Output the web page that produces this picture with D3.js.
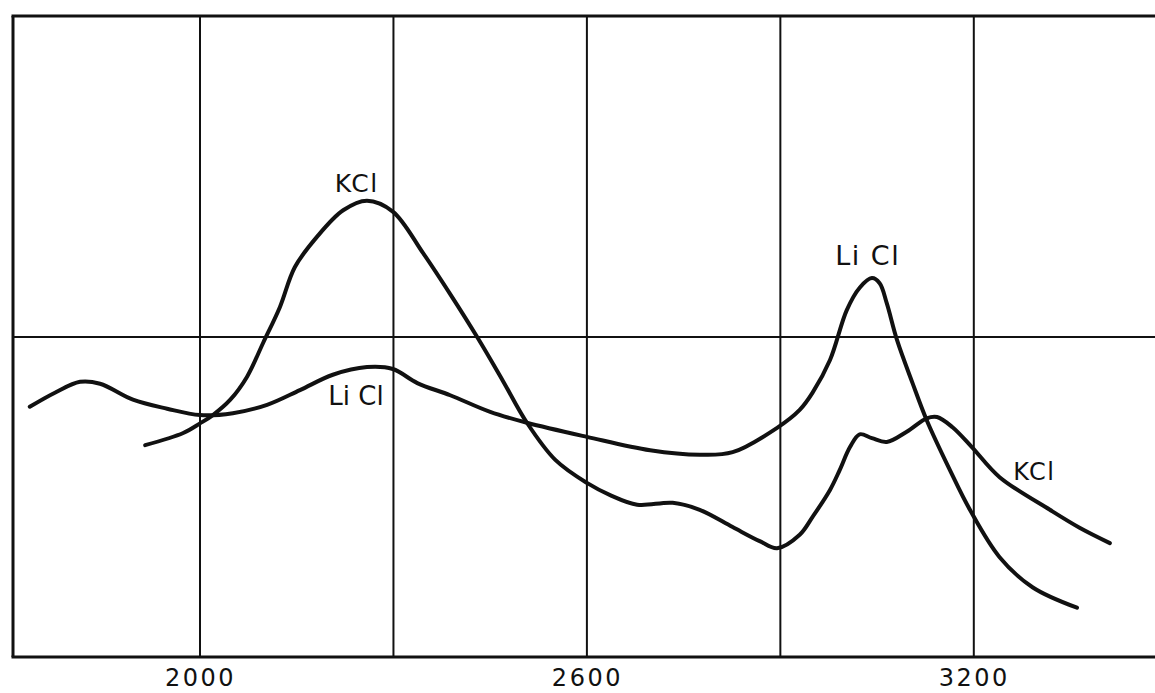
<!DOCTYPE html>
<html>
<head>
<meta charset="utf-8">
<script src="https://cdn.jsdelivr.net/npm/d3@7"></script>
<style>
  html, body { margin: 0; padding: 0; background: #fff; }
  svg { display: block; }
  text { font-family: "DejaVu Sans", "Liberation Sans", sans-serif; fill: #111; }
</style>
</head>
<body>
<svg id="chart" width="1155" height="693"></svg>
<script>
// Wavenumber (cm^-1) of each reading
const kclWave = [1915, 1974, 2000, 2020, 2047, 2073, 2098, 2124, 2147, 2181, 2222, 2259, 2299, 2346, 2388, 2431, 2470, 2507, 2551, 2600, 2636, 2678, 2733, 2775, 2826, 2868, 2895, 2930, 2950, 2977, 2992, 3008, 3023, 3042, 3065, 3096, 3127, 3143, 3167, 3197, 3240, 3318, 3364, 3411];
// Relative intensity of the KCl trace
const kclValue = [33.1, 35.0, 36.5, 37.8, 40.2, 43.8, 49.1, 54.7, 60.9, 65.6, 69.8, 71.3, 69.6, 63.1, 56.7, 49.8, 43.1, 36.6, 30.8, 27.2, 25.3, 23.8, 24.1, 23.0, 20.3, 18.1, 17.0, 19.1, 21.9, 26.1, 29.2, 32.8, 34.8, 34.2, 33.6, 35.2, 37.3, 37.5, 35.9, 32.8, 28.1, 23.0, 20.2, 17.8];

const liclWave = [1736, 1775, 1814, 1845, 1896, 1949, 2000, 2051, 2104, 2155, 2206, 2259, 2299, 2337, 2388, 2450, 2507, 2600, 2698, 2775, 2826, 2895, 2930, 2950, 2977, 3003, 3023, 3042, 3054, 3065, 3081, 3105, 3127, 3163, 3194, 3240, 3291, 3360];
// Relative intensity of the LiCl trace
const liclValue = [39.1, 41.3, 43.0, 42.7, 40.2, 38.8, 37.8, 38.1, 39.4, 41.7, 44.1, 45.3, 45.0, 42.8, 40.9, 38.3, 36.6, 34.4, 32.3, 31.6, 32.0, 35.8, 38.6, 41.3, 46.4, 54.2, 57.7, 59.2, 58.4, 55.3, 49.5, 42.8, 37.0, 29.2, 23.0, 15.6, 10.9, 7.7];

// Vertical rules and which of them carry a label
const gridWaves = [2000, 2300, 2600, 2900, 3200];
const tickLabels = ["2000", "2600", "3200"];
const midLevel = [50];

// Curve labels: text and the wavenumber / intensity where each text starts
const labelText = ["KCl", "Li Cl", "Li Cl", "KCl"];
const labelWave = [2209, 2985, 2199, 3261];
const labelValue = [72.7, 61.2, 39.4, 27.7];

const labelStyle = [
  { size: 25, spacing: 1.5 },
  { size: 27, spacing: 1.5 },
  { size: 26, spacing: 0 },
  { size: 24, spacing: 1.5 }
];

const svg = d3.select("#chart");
const W = 1155, H = 693;

const x = d3.scaleLinear().domain([1710, 3481]).range([13, 1155]);
const y = d3.scaleLinear().domain([0, 100]).range([657, 17]);

// frame: left edge and top edge
const frame = svg.append("g").attr("stroke", "#111").attr("fill", "none");
frame.append("line")
  .attr("x1", x(1710)).attr("x2", x(1710))
  .attr("y1", y(100) - 1).attr("y2", y(0))
  .attr("stroke-width", 3);
frame.append("line")
  .attr("x1", x(1710) - 1.5).attr("x2", W)
  .attr("y1", y(100) - 1).attr("y2", y(100) - 1)
  .attr("stroke-width", 3);

// vertical rules
svg.append("g").selectAll("line").data(gridWaves).join("line")
  .attr("x1", d => x(d)).attr("x2", d => x(d))
  .attr("y1", y(100)).attr("y2", y(0))
  .attr("stroke", "#111").attr("stroke-width", 2);

// horizontal rule
svg.append("g").selectAll("line").data(midLevel).join("line")
  .attr("x1", x(1710)).attr("x2", W)
  .attr("y1", d => y(d)).attr("y2", d => y(d))
  .attr("stroke", "#111").attr("stroke-width", 2);

// bottom axis with labels at 2000, 2600, 3200
const axis = d3.axisBottom(x)
  .tickValues(tickLabels.map(Number))
  .tickFormat(d3.format("d"))
  .tickSize(0)
  .tickPadding(12);
const gAxis = svg.append("g").attr("transform", `translate(0,${y(0)})`).call(axis);
gAxis.select(".domain").attr("stroke", "#111").attr("stroke-width", 3)
  .attr("d", `M${x(1710) - 1.5},0H${W}`);
gAxis.selectAll("text")
  .attr("font-size", 24)
  .attr("letter-spacing", 2.5)
  .style("font-family", "'DejaVu Sans', sans-serif")
  .attr("fill", "#111");

// traces
const line = d3.line().curve(d3.curveCatmullRom.alpha(0.5))
  .x(d => x(d[0])).y(d => y(d[1]));

const kcl = d3.zip(kclWave, kclValue);
const licl = d3.zip(liclWave, liclValue);

svg.append("g").attr("fill", "none").attr("stroke", "#111")
  .attr("stroke-width", 4).attr("stroke-linecap", "round").attr("stroke-linejoin", "round")
  .selectAll("path").data([kcl, licl]).join("path")
  .attr("d", line);

// curve labels
svg.append("g").selectAll("text").data(labelText).join("text")
  .attr("x", (d, i) => x(labelWave[i]))
  .attr("y", (d, i) => y(labelValue[i]))
  .attr("font-size", (d, i) => labelStyle[i].size)
  .attr("letter-spacing", (d, i) => labelStyle[i].spacing)
  .text(d => d);
</script>
</body>
</html>
